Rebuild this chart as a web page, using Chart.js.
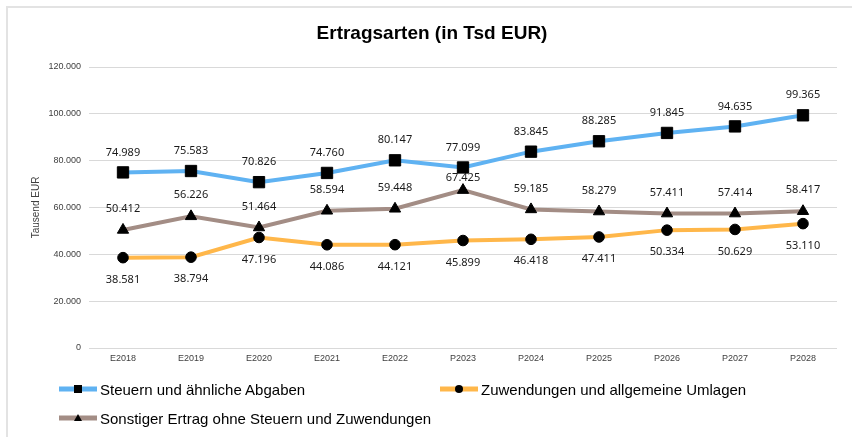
<!DOCTYPE html>
<html>
<head>
<meta charset="utf-8">
<script src="https://cdn.jsdelivr.net/npm/chart.js@4.4.1/dist/chart.umd.min.js"></script>
<style>
  html, body { margin: 0; padding: 0; background: #fff; }
  #wrap { position: relative; width: 852px; height: 437px; overflow: hidden; }
  #frame { position: absolute; left: 6px; top: 6px; width: 900px; height: 500px; border-left: 2px solid #e3e3e3; border-top: 2px solid #e3e3e3; }
  canvas { position: absolute; left: 0; top: 0; }
  .leg { position: absolute; font-family: "Liberation Sans", Arial, sans-serif; font-size: 15px; color: #000; white-space: nowrap; display: flex; align-items: center; }
  .leg svg { margin-right: 3px; }
</style>
</head>
<body>
<div id="wrap">
  <div id="frame"></div>
  <canvas id="c" width="852" height="437"></canvas>
  <div id="legend"></div>
</div>
<script>
const categories = ["E2018","E2019","E2020","E2021","E2022","P2023","P2024","P2025","P2026","P2027","P2028"];
const steuern = [74989,75583,70826,74760,80147,77099,83845,88285,91845,94635,99365];
const zuwendungen = [38581,38794,47196,44086,44121,45899,46418,47411,50334,50629,53110];
const sonstiger = [50412,56226,51464,58594,59448,67425,59185,58279,57411,57414,58417];
const seriesNames = ["Steuern und ähnliche Abgaben","Zuwendungen und allgemeine Umlagen","Sonstiger Ertrag ohne Steuern und Zuwendungen"];
const yTicks = [0,20000,40000,60000,80000,100000,120000];

function fmt(v) {
  return String(v).replace(/\B(?=(\d{3})+(?!\d))/g, ".");
}

const colors = ["#5fb2f2", "#ffb74a", "#a38d85"];
const labelOffsets = [-20, 22, -21];
// individually moved labels (dataset index, point index) -> vertical offset
const labelOverrides = { "2,5": -12.5 };

const dataLabels = {
  id: "dataLabels",
  afterDatasetsDraw(chart) {
    const ctx = chart.ctx;
    ctx.save();
    ctx.font = '11px "Noto Sans", sans-serif';
    ctx.fillStyle = "#1a1a1a";
    ctx.textAlign = "center";
    ctx.textBaseline = "middle";
    chart.data.datasets.forEach((ds, i) => {
      const meta = chart.getDatasetMeta(i);
      meta.data.forEach((pt, j) => {
        const key = i + "," + j;
        const off = key in labelOverrides ? labelOverrides[key] : labelOffsets[i];
        ctx.fillText(fmt(ds.data[j]), pt.x, pt.y + off);
      });
    });
    ctx.restore();
  }
};

new Chart(document.getElementById("c"), {
  type: "line",
  data: {
    labels: categories,
    datasets: [
      { label: seriesNames[0], data: steuern, borderColor: colors[0], borderWidth: 4, pointStyle: "rect", pointRadius: 8, pointBackgroundColor: "#000", pointBorderColor: "#000", pointBorderWidth: 1, tension: 0, order: 0 },
      { label: seriesNames[1], data: zuwendungen, borderColor: colors[1], borderWidth: 4, pointStyle: "circle", pointRadius: 5.3, pointBackgroundColor: "#000", pointBorderColor: "#000", pointBorderWidth: 1, tension: 0, order: 2 },
      { label: seriesNames[2], data: sonstiger, borderColor: colors[2], borderWidth: 4, pointStyle: "triangle", pointRadius: 6.5, pointBackgroundColor: "#000", pointBorderColor: "#000", pointBorderWidth: 1, tension: 0, order: 1 }
    ]
  },
  options: {
    responsive: false,
    animation: false,
    layout: { padding: { left: 27, right: 15, top: 0, bottom: 0 } },
    plugins: {
      legend: { display: false },
      tooltip: { enabled: false },
      title: {
        display: true,
        text: "Ertragsarten (in Tsd EUR)",
        color: "#000",
        font: { family: '"Liberation Sans", Arial, sans-serif', size: 19, weight: "bold", lineHeight: 1.2 },
        padding: { top: 22, bottom: 22.2 }
      }
    },
    scales: {
      x: {
        offset: true,
        grid: { display: false, drawTicks: false },
        border: { display: false },
        ticks: { color: "#404040", font: { family: '"Liberation Sans", Arial, sans-serif', size: 9 }, padding: 5, maxRotation: 0, autoSkip: false },
        afterFit(s) { s.height = 89; }
      },
      y: {
        min: 0, max: 120000,
        afterBuildTicks(s) { s.ticks = yTicks.map(v => ({ value: v })); },
        grid: { color: "#d9d9d9", lineWidth: 1, drawTicks: false },
        border: { display: false },
        ticks: { color: "#404040", font: { family: '"Liberation Sans", Arial, sans-serif', size: 9 }, padding: 8, callback: v => fmt(v) },
        title: { display: true, text: "Tausend EUR", color: "#404040", font: { family: '"Liberation Sans", Arial, sans-serif', size: 10 }, padding: { top: 3, bottom: 0 } },
        afterFit(s) { s.width = 62; }
      }
    }
  },
  plugins: [dataLabels]
});

// HTML legend
const markers = [
  '<rect x="15" y="4" width="8" height="8" fill="#000"/>',
  '<circle cx="19" cy="8" r="4" fill="#000"/>',
  '<polygon points="19,4 23,11 15,11" fill="#000"/>'
];
const legPos = [[59, 389], [440, 389], [59, 418]];
const legend = document.getElementById("legend");
seriesNames.forEach((name, i) => {
  const d = document.createElement("div");
  d.className = "leg";
  d.style.left = legPos[i][0] + "px";
  d.style.top = (legPos[i][1] - 9) + "px";
  d.style.height = "18px";
  d.innerHTML = '<svg width="38" height="16"><line x1="0" y1="8" x2="38" y2="8" stroke="' + colors[i] + '" stroke-width="5"/>' + markers[i] + '</svg><span>' + name + '</span>';
  legend.appendChild(d);
});
</script>
</body>
</html>
